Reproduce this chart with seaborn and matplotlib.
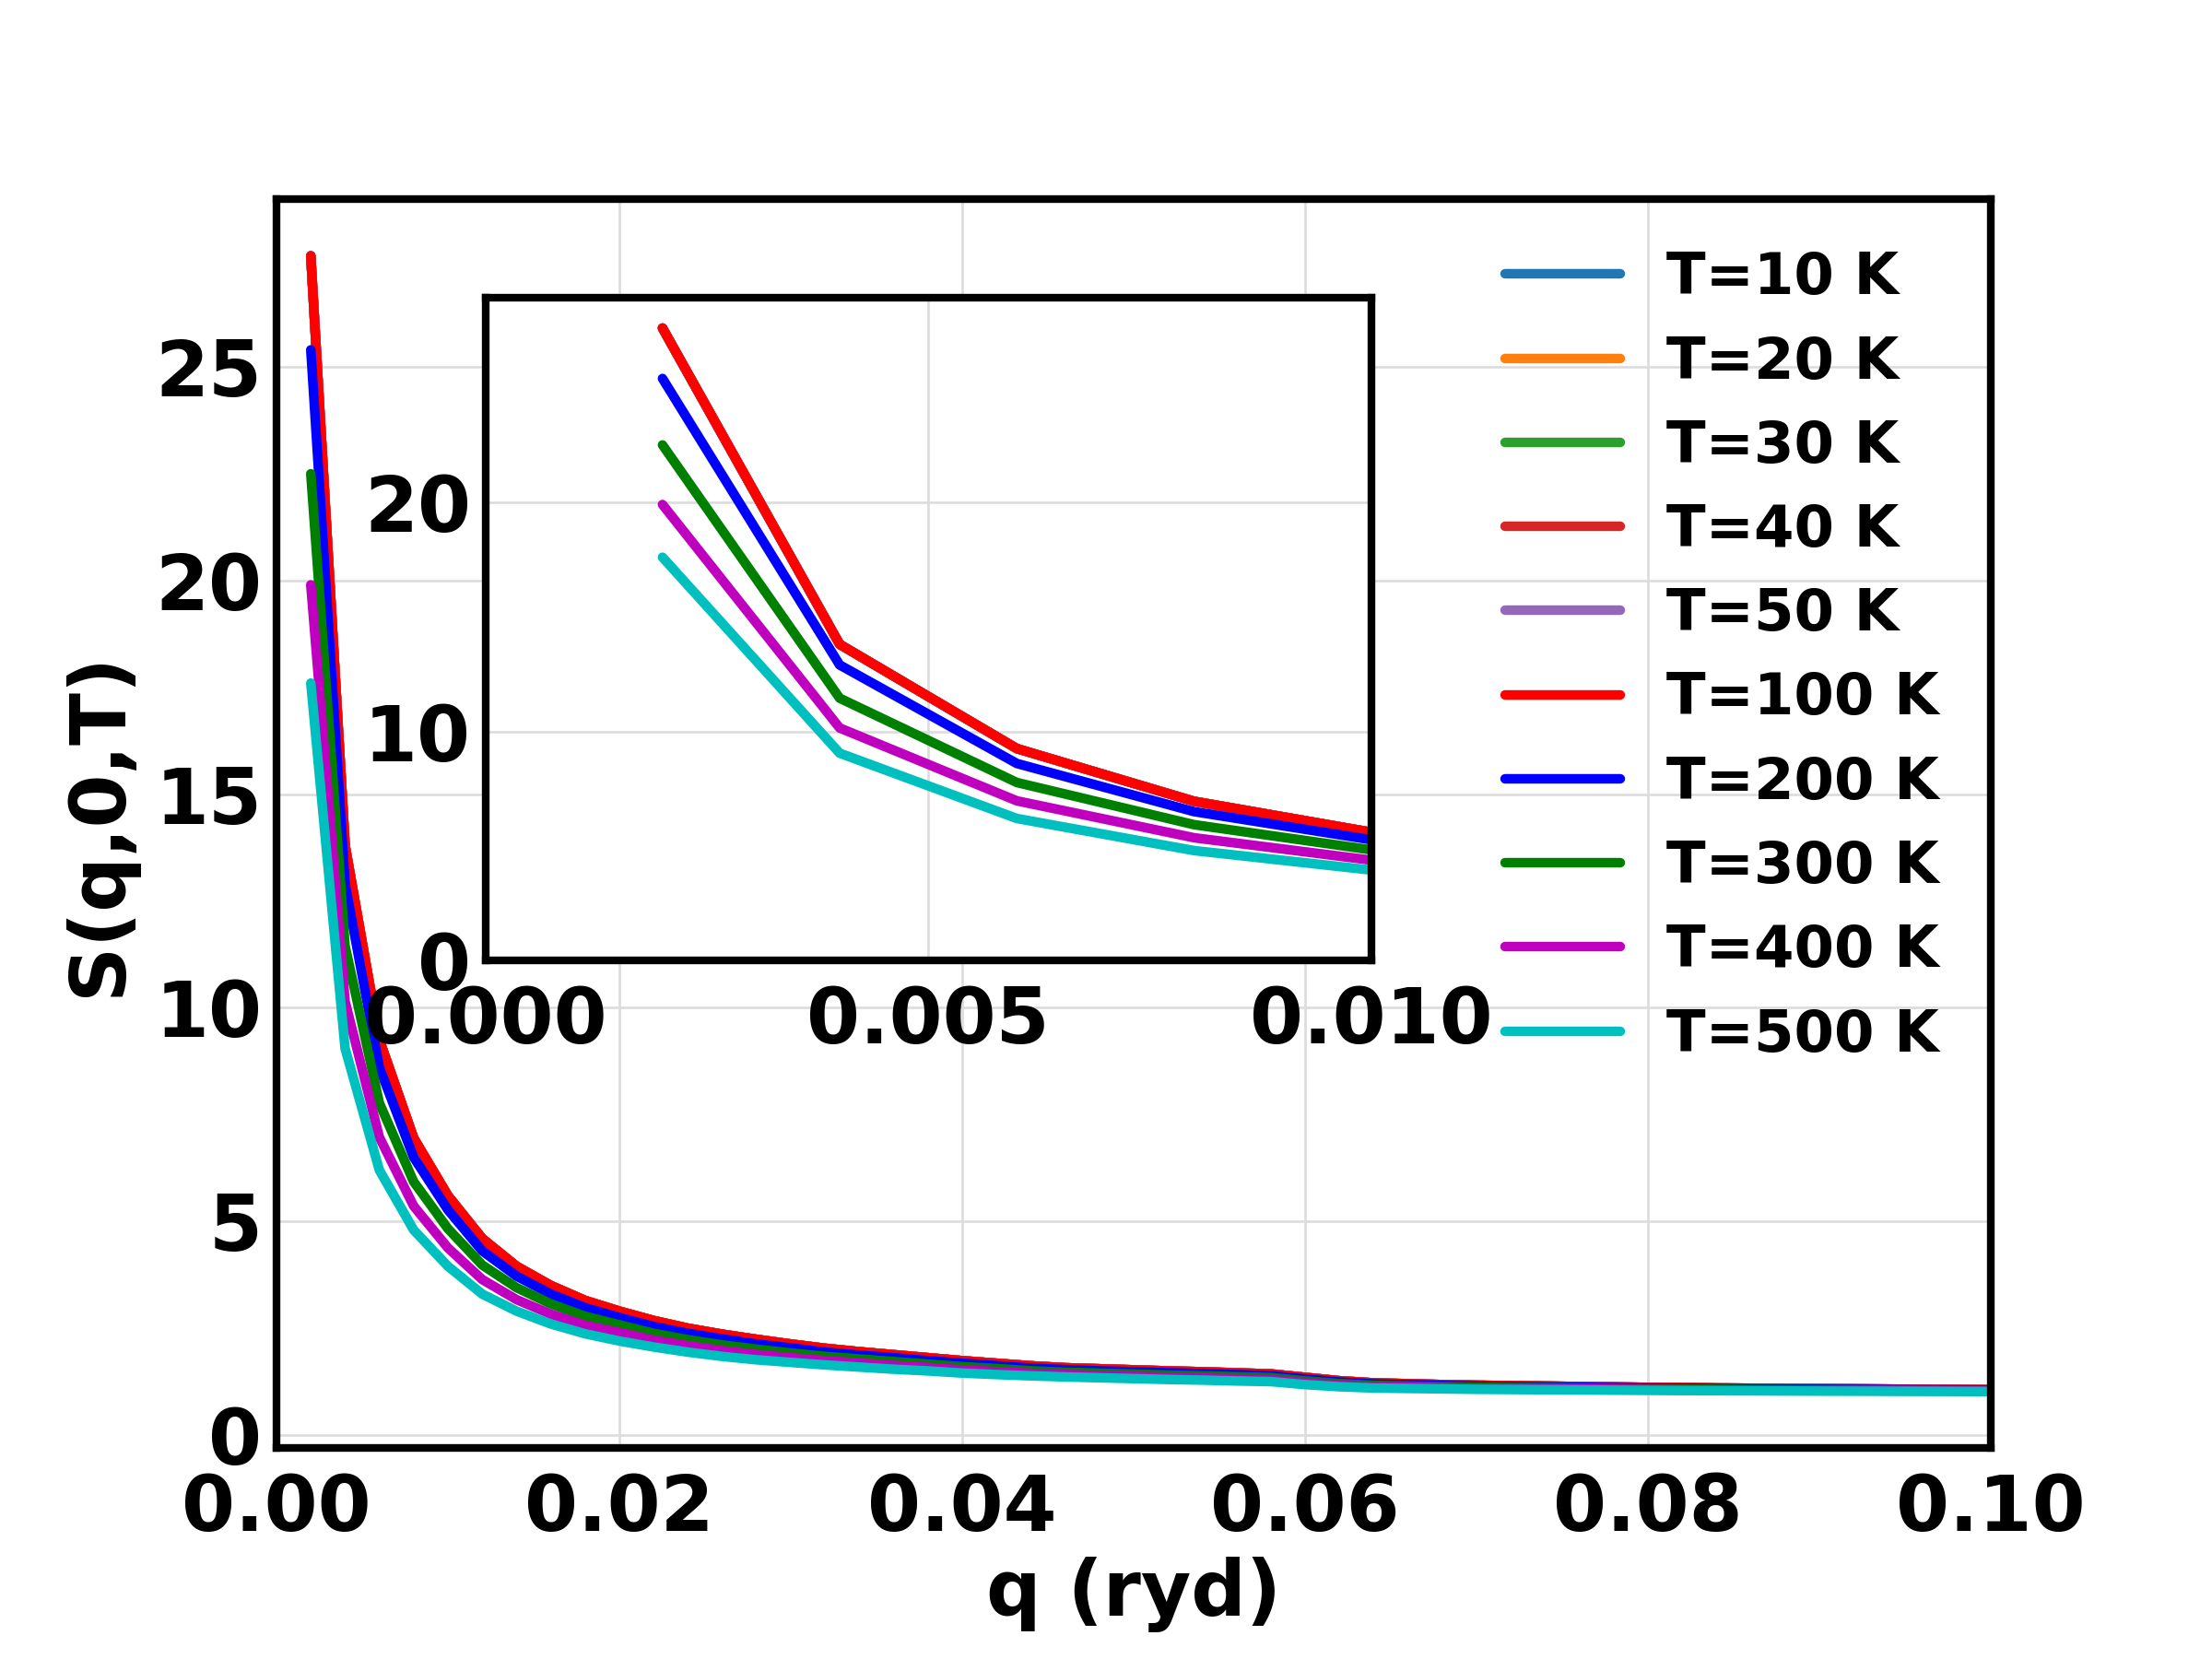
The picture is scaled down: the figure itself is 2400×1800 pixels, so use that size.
import numpy as np
import pandas as pd
import matplotlib
matplotlib.use("Agg")
import matplotlib.pyplot as plt
import seaborn as sns

# q grid (ryd)
q = [0.002, 0.004, 0.006, 0.008, 0.010, 0.012, 0.014, 0.016, 0.018, 0.020,
     0.022, 0.024, 0.026, 0.028, 0.030, 0.032, 0.034, 0.036, 0.038, 0.040,
     0.042, 0.044, 0.046, 0.048, 0.050, 0.052, 0.054, 0.056, 0.058, 0.060,
     0.062, 0.064, 0.066, 0.068, 0.070, 0.072, 0.074, 0.076, 0.078, 0.080,
     0.082, 0.084, 0.086, 0.088, 0.090, 0.092, 0.094, 0.096, 0.098, 0.100]

# S(q,0,T); the 10-50 K curves sit under the 100 K one
s_100 = [27.6, 13.8, 9.25, 6.95, 5.6, 4.6, 3.95, 3.5, 3.15, 2.9,
         2.68, 2.5, 2.36, 2.24, 2.13, 2.03, 1.95, 1.88, 1.81, 1.74,
         1.68, 1.62, 1.575, 1.55, 1.525, 1.50, 1.48, 1.455, 1.43, 1.35,
         1.27, 1.22, 1.20, 1.18, 1.165, 1.155, 1.145, 1.135, 1.125, 1.115,
         1.11, 1.10, 1.095, 1.09, 1.085, 1.08, 1.075, 1.07, 1.065, 1.06]
s_10 = s_100
s_20 = s_100
s_30 = s_100
s_40 = s_100
s_50 = s_100
s_200 = [25.4, 12.9, 8.6, 6.5, 5.27, 4.31, 3.72, 3.30, 2.98, 2.75,
         2.54, 2.38, 2.25, 2.13, 2.04, 1.94, 1.87, 1.81, 1.74, 1.68,
         1.625, 1.565, 1.53, 1.50, 1.48, 1.456, 1.437, 1.413, 1.39, 1.31,
         1.24, 1.194, 1.176, 1.158, 1.144, 1.135, 1.126, 1.117, 1.108, 1.10,
         1.095, 1.087, 1.082, 1.077, 1.072, 1.068, 1.064, 1.059, 1.055, 1.051]
s_300 = [22.5, 11.45, 7.77, 5.93, 4.83, 3.98, 3.45, 3.07, 2.78, 2.58,
         2.38, 2.23, 2.11, 2.01, 1.92, 1.84, 1.78, 1.72, 1.66, 1.60,
         1.555, 1.505, 1.47, 1.45, 1.427, 1.404, 1.385, 1.365, 1.344, 1.268,
         1.203, 1.162, 1.147, 1.132, 1.119, 1.112, 1.104, 1.097, 1.089, 1.081,
         1.076, 1.07, 1.066, 1.062, 1.058, 1.054, 1.051, 1.047, 1.043, 1.04]
s_400 = [19.9, 10.15, 6.97, 5.36, 4.38, 3.64, 3.17, 2.83, 2.57, 2.40,
         2.22, 2.09, 1.975, 1.885, 1.81, 1.74, 1.684, 1.628, 1.58, 1.525,
         1.484, 1.446, 1.416, 1.395, 1.373, 1.352, 1.336, 1.314, 1.297, 1.224,
         1.166, 1.131, 1.119, 1.106, 1.095, 1.088, 1.082, 1.076, 1.07, 1.063,
         1.058, 1.053, 1.05, 1.046, 1.043, 1.04, 1.037, 1.034, 1.032, 1.029]
s_500 = [17.6, 9.05, 6.2, 4.8, 3.95, 3.3, 2.9, 2.6, 2.37, 2.2,
         2.06, 1.94, 1.84, 1.76, 1.70, 1.64, 1.59, 1.54, 1.50, 1.45,
         1.415, 1.385, 1.36, 1.34, 1.32, 1.30, 1.285, 1.265, 1.25, 1.18,
         1.13, 1.10, 1.09, 1.08, 1.07, 1.065, 1.06, 1.055, 1.05, 1.045,
         1.04, 1.037, 1.034, 1.031, 1.028, 1.026, 1.024, 1.022, 1.02, 1.018]

labels = ["T=10 K", "T=20 K", "T=30 K", "T=40 K", "T=50 K",
          "T=100 K", "T=200 K", "T=300 K", "T=400 K", "T=500 K"]
series = [s_10, s_20, s_30, s_40, s_50, s_100, s_200, s_300, s_400, s_500]
colors = ["tab:blue", "tab:orange", "tab:green", "tab:red", "tab:purple",
          "r", "b", "g", "m", "c"]

# long table for seaborn
df = pd.DataFrame({
    "q": np.tile(q, len(labels)),
    "S": np.concatenate(series),
    "T": np.repeat(labels, len(q)),
})

sns.set_style("white")
plt.rcParams["font.family"] = ["DejaVu Sans"]
plt.rcParams["font.weight"] = "bold"
plt.rcParams["axes.labelweight"] = "bold"
plt.rcParams["axes.linewidth"] = 1.6
plt.rcParams["text.color"] = "black"
plt.rcParams["axes.labelcolor"] = "black"
plt.rcParams["xtick.color"] = "black"
plt.rcParams["ytick.color"] = "black"


def style_axes(a):
    a.tick_params(direction="in", length=3, width=1.5, labelsize=16,
                  top=False, right=False, colors="black")
    a.tick_params(axis="x", pad=5)
    a.tick_params(axis="y", pad=3)
    a.grid(True, color="#dcdcdc", linestyle="-", linewidth=0.5)
    for sp in a.spines.values():
        sp.set_color("black")
        sp.set_linewidth(1.6)


fig = plt.figure(figsize=(6.4, 4.8), dpi=375)
ax = fig.add_axes([0.125, 0.127, 0.775, 0.753])

for lab, col in zip(labels, colors):
    sub = df[df["T"] == lab]
    sns.lineplot(data=sub, x="q", y="S", ax=ax, color=col, lw=2,
                 label=lab, estimator=None)

ax.set_xlim(0, 0.1)
ax.set_xticks([0.0, 0.02, 0.04, 0.06, 0.08, 0.10])
ax.set_yticks([0, 5, 10, 15, 20, 25])
ax.set_xlabel("q (ryd)", fontsize=16, labelpad=2)
ax.set_ylabel("S(q,0,T)", fontsize=16)
style_axes(ax)
ax.legend(loc="upper right", frameon=False, fontsize=12, labelspacing=0.5)

# inset zoom on small q
ins = fig.add_axes([0.2194, 0.421, 0.4005, 0.3996])
for lab, col in zip(labels, colors):
    sub = df[df["T"] == lab]
    sns.lineplot(data=sub, x="q", y="S", ax=ins, color=col, lw=2,
                 legend=False, estimator=None)
ins.set_xlim(0, 0.01)
ins.set_ylim(0, ax.get_ylim()[1])
ins.set_xticks([0.0, 0.005, 0.010])
ins.set_yticks([0, 10, 20])
ins.set_xlabel("")
ins.set_ylabel("")
style_axes(ins)

fig.savefig("out.png", dpi=375)
